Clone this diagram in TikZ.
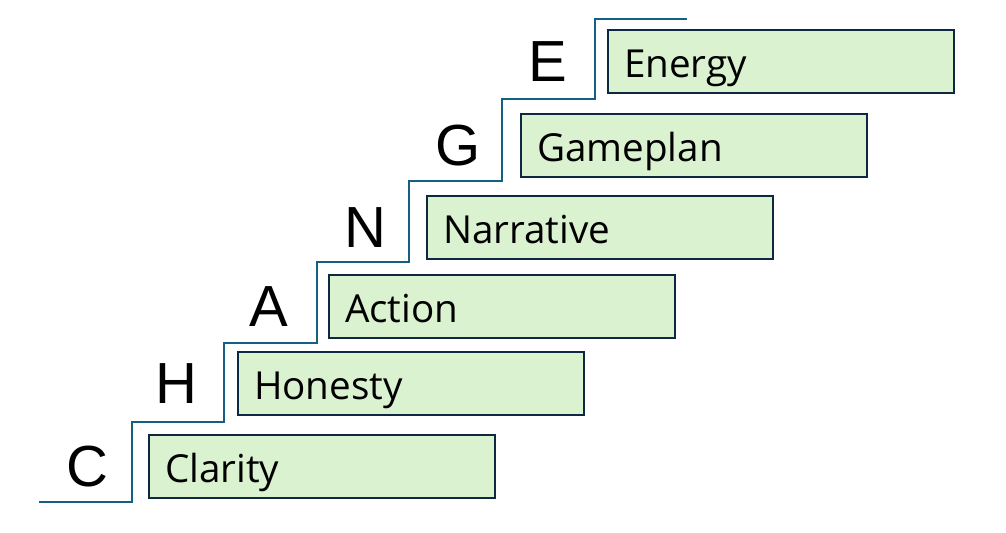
\documentclass[tikz,border=0pt]{standalone}
\usepackage{fontspec}
\setmainfont{Liberation Sans}
\newfontfamily\wordfont{Open Sans}
\usepackage{xcolor}
\usepackage{tikz}
\usetikzlibrary{positioning}
\definecolor{stairblue}{HTML}{156082}
\definecolor{boxgreen}{HTML}{DAF2D0}
\definecolor{boxedge}{HTML}{0E2841}

\begin{document}
\begin{tikzpicture}[
  x=0.5pt, y=-0.5pt,
  node distance=0.55cm and 0.75cm,
  word/.style={draw=boxedge, line width=1pt, fill=boxgreen, anchor=north west,
    inner xsep=8pt, inner ysep=0pt, text width=157pt, minimum height=31.5pt,
    text height=18pt, text depth=2.4pt,
    align=left, font=\wordfont\fontsize{19.3}{22}\selectfont},
  initial/.style={font=\fontsize{29}{32}\selectfont, inner sep=0pt, left=19.5pt of #1},
  stair/.style={draw=stairblue, line width=0.8pt}
]
\useasboundingbox (0,0) rectangle (1006,532);

\node[word] (clarity) at (148,434) {Clarity};
\node[word] (honesty) at (237,351) {Honesty};
\node[word] (action) at (328,274) {Action};
\node[word] (narrative) at (426,195) {Narrative};
\node[word] (gameplan) at (520,113) {Gameplan};
\node[word] (energy) at (607,29) {Energy};

\node[initial=clarity] (c) {C};
\node[initial=honesty] (h) {H};
\node[initial=action] (a) {A};
\node[initial=narrative] (n) {N};
\node[initial=gameplan] (g) {G};
\node[initial=energy] (e) {E};

% the steps
\draw[stair] (39,502) -| (132,422) -| (224,343) -| (317,262) -| (409,181)
  -| (502,99) -| (595,19) -- (687,19);
\end{tikzpicture}
\end{document}
